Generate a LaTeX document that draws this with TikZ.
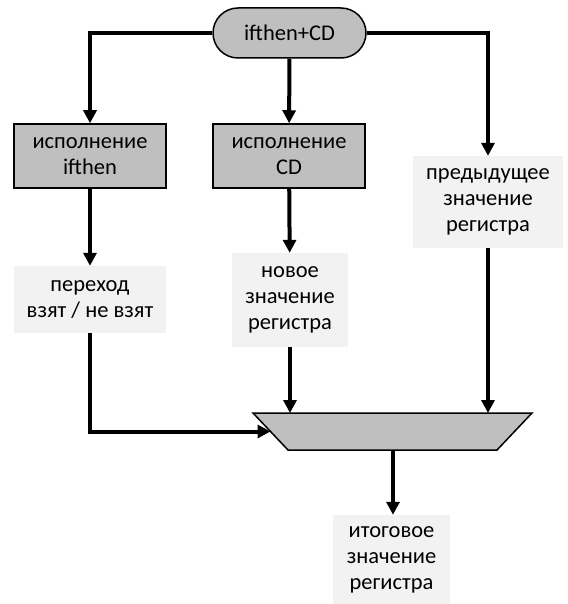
\documentclass[tikz,border=0pt]{standalone}
\usepackage{fontspec}
\setmainfont{Carlito}
\usetikzlibrary{arrows.meta}

\definecolor{execgray}{HTML}{BFBFBF}
\definecolor{valgray}{HTML}{F2F2F2}

\begin{document}
\begin{tikzpicture}[
    x=1pt, y=-1pt,
    font=\fontsize{22.5}{26}\selectfont,
    flow/.style={-{Triangle[width=13pt,length=13pt]}, line width=4pt},
    exec/.style={draw, line width=1.5pt, fill=execgray, align=center,
        inner sep=0pt, minimum width=152pt, minimum height=64pt},
    val/.style={fill=valgray, align=center, inner sep=0pt}
    ]

    \useasboundingbox (0,0) rectangle (567,604);

    \node[draw, line width=1.5pt, fill=execgray, rounded corners=25pt,
        minimum width=153pt, minimum height=50pt, inner sep=0pt] (top) at (289.5,33) {ifthen+CD};

    \node[exec] (ifexec) at (90,156) {исполнение\\ifthen};
    \node[exec] (cdexec) at (289,156) {исполнение\\CD};
    \node[val, minimum width=150pt, minimum height=92pt] (prev) at (488,202) {предыдущее\\значение\\регистра};

    \node[val, minimum width=152pt, minimum height=67pt] (jump) at (90,299.5) {переход\\взят / не взят};
    \node[val, minimum width=116pt, minimum height=94pt] (new) at (290,300) {новое\\значение\\регистра};

    % selector
    \draw[line width=1.5pt, fill=execgray] (253,413) -- (532,413) -- (497,450) -- (288,450) -- cycle;
    \coordinate (selnew) at (290,413);
    \coordinate (selprev) at (488,413);
    \coordinate (seljump) at (270.5,431.5);
    \coordinate (selout) at (393,450);

    \node[val, minimum width=117pt, minimum height=89pt] (res) at (391.5,559.5) {итоговое\\значение\\регистра};

    \draw[flow] (top.west) -| (ifexec);
    \draw[flow] (top) -- (cdexec);
    \draw[flow] (top.east) -| (prev);

    \draw[flow] (ifexec) -- (jump);
    \draw[flow] (cdexec) -- (new);

    \draw[flow] (jump) |- (seljump);
    \draw[flow] (new) -- (selnew);
    \draw[flow] (prev) -- (selprev);
    \draw[flow] (selout) -- (selout |- res.north);

\end{tikzpicture}
\end{document}
